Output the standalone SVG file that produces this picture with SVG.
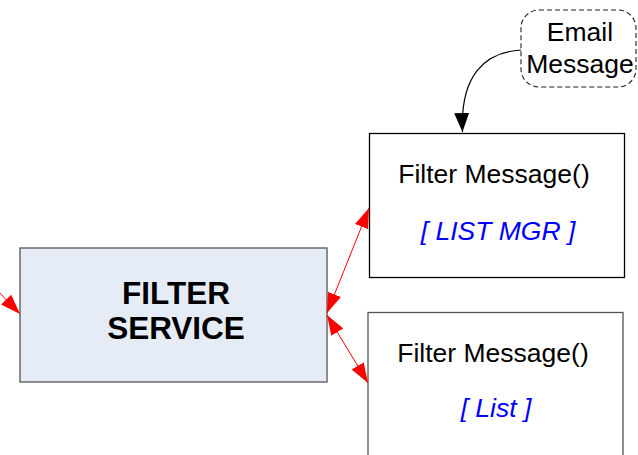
<svg xmlns="http://www.w3.org/2000/svg" width="638" height="455" viewBox="0 0 638 455">
<style>
.t{font-family:"Liberation Sans",Arial,sans-serif;fill:#000}
.b{font-weight:bold;font-size:31.5px}
.m{font-size:26.5px}
.i{font-size:26.5px;font-style:italic;fill:#0000ff}
.red{stroke:#ff0000;stroke-width:1;fill:none}
</style>
<defs>
<marker id="rh" viewBox="0 0 20 14" refX="20" refY="7" markerWidth="20" markerHeight="14" markerUnits="userSpaceOnUse" orient="auto-start-reverse">
<path d="M0,0 L20,7 L0,14 z" fill="#ff0000"/>
</marker>
<marker id="bh" viewBox="0 0 19 15" refX="19" refY="7.5" markerWidth="19" markerHeight="15" markerUnits="userSpaceOnUse" orient="auto">
<path d="M0,0 L19,7.5 L0,15 z" fill="#000"/>
</marker>
</defs>
<rect width="638" height="455" fill="#fff"/>
<g id="filter-service">
<rect x="20" y="248" width="307" height="134" fill="#e6ecf6" stroke="#555" stroke-width="1.3"/>
<text class="t b" x="176" y="304" text-anchor="middle">FILTER</text>
<text class="t b" x="176" y="339" text-anchor="middle">SERVICE</text>
</g>
<g id="list-mgr">
<rect x="369.5" y="133.5" width="255" height="144" fill="#fff" stroke="#000" stroke-width="1.3"/>
<text class="t m" x="494" y="183" text-anchor="middle">Filter Message()</text>
<text class="t i" x="498" y="240" text-anchor="middle">[ LIST MGR ]</text>
</g>
<g id="list">
<rect x="368" y="312.5" width="255" height="160" fill="#fff" stroke="#555" stroke-width="1.3"/>
<text class="t m" x="493" y="362" text-anchor="middle">Filter Message()</text>
<text class="t i" x="496" y="417" text-anchor="middle">[ List ]</text>
</g>
<g id="email-message">
<rect x="521" y="10" width="115" height="77" rx="18" ry="18" fill="#fff" stroke="#222" stroke-width="1.1" stroke-dasharray="5,3"/>
<text class="t m" x="580" y="41" text-anchor="middle">Email</text>
<text class="t m" x="580" y="73" text-anchor="middle">Message</text>
</g>
<g id="connectors">
<path d="M521,50 C485,52 460,75 462.5,132" fill="none" stroke="#000" stroke-width="1.2" marker-end="url(#bh)"/>
<line class="red" x1="327" y1="313" x2="369" y2="208" marker-start="url(#rh)" marker-end="url(#rh)"/>
<line class="red" x1="327" y1="315" x2="368" y2="383" marker-start="url(#rh)" marker-end="url(#rh)"/>
<line class="red" x1="-5" y1="288" x2="20" y2="314" marker-end="url(#rh)"/>
</g>
</svg>
